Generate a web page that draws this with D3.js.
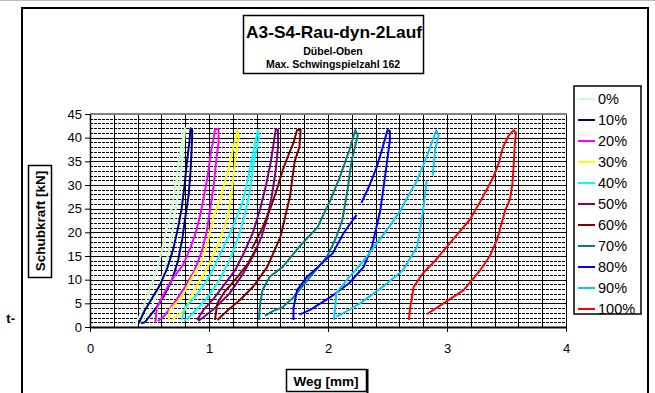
<!DOCTYPE html>
<html><head><meta charset="utf-8">
<script src="https://cdn.jsdelivr.net/npm/d3@7"></script>
<style>
html,body{margin:0;padding:0;background:#fff;}
svg{display:block;font-family:Arial,"Liberation Sans",sans-serif;}
</style></head>
<body><svg id="c" width="655" height="393"></svg>
<script>
// ---- data ----
const seriesNames = ["0%","10%","20%","30%","40%","50%","60%","70%","80%","90%","100%"];
const seriesColors = ["#CCFFCC","#000080","#FF00FF","#FFFF00","#00FFFF","#800080","#800000","#008080","#0000FF","#00CCFF","#FF0000"];
const xTicks = [0,1,2,3,4];
const yTicks = [0,5,10,15,20,25,30,35,40,45];

const s0 = [[0.38,0.5],[0.43,3],[0.48,6.5],[0.53,10],[0.58,13.5],[0.62,18],[0.66,22],[0.70,27],[0.73,32],[0.76,37],[0.79,41.5],[0.80,42],[0.79,39],[0.77,34],[0.745,29],[0.715,24],[0.685,19],[0.645,14],[0.60,10],[0.55,6],[0.49,3],[0.41,0.8]];
const s10 = [[0.41,0.8],[0.46,3.5],[0.52,6],[0.59,9],[0.65,12.5],[0.70,16.5],[0.74,21],[0.77,25],[0.795,30],[0.815,35],[0.835,39],[0.845,42],[0.86,41.5],[0.855,38],[0.845,33],[0.83,28],[0.80,23],[0.775,18.5],[0.74,14],[0.69,10],[0.62,6.5],[0.54,3.5],[0.46,1],[0.43,0.8]];
const s20 = [[0.55,1],[0.56,4],[0.62,7],[0.70,10.5],[0.78,13],[0.84,16.5],[0.89,20],[0.93,24],[0.96,28],[0.99,32],[1.01,36],[1.04,40],[1.05,41.8],[1.08,41.8],[1.08,39],[1.06,35],[1.04,30],[1.01,25],[0.98,20],[0.94,16],[0.88,12],[0.80,8.5],[0.72,5.5],[0.63,2.5],[0.57,1.2]];
const s30 = [[0.66,1.5],[0.67,3.6],[0.77,6.3],[0.86,10.6],[0.94,14],[0.99,18],[1.03,22.6],[1.11,28.3],[1.16,33.2],[1.20,37.4],[1.24,41.6],[1.25,40],[1.22,35.3],[1.19,28.3],[1.15,22.6],[1.08,17.7],[0.99,12.7],[0.91,9.3],[0.85,6.5],[0.80,3.6],[0.69,1.5]];
const s40 = [[0.77,1.5],[0.80,4.2],[0.88,6.3],[0.97,9.3],[1.03,12],[1.11,16.3],[1.19,20.5],[1.28,26.2],[1.33,31.7],[1.37,36.7],[1.41,41.6],[1.42,40],[1.38,35.3],[1.34,28.3],[1.29,22.6],[1.24,18.5],[1.18,14.5],[1.09,10],[0.98,6],[0.86,2.8],[0.79,1.2]];
const s50 = [[0.90,1.5],[0.95,3.5],[1.04,6],[1.13,9],[1.22,12],[1.30,16],[1.37,20],[1.43,25],[1.48,30],[1.52,35],[1.56,41.6],[1.58,41.6],[1.58,38],[1.56,33],[1.53,28],[1.49,23],[1.44,19],[1.37,15],[1.28,11],[1.17,7],[1.05,4],[0.95,2],[0.91,1.3]];
const s60 = [[1.05,1.5],[1.07,5],[1.13,7.4],[1.24,10.6],[1.33,13.5],[1.40,16.7],null,[1.36,16.5],[1.45,21],[1.51,24.7],[1.57,29],[1.62,33.2],[1.67,36.5],[1.71,38.9],[1.74,41.6],[1.77,41.6],[1.76,38],[1.72,35],[1.68,27.5],[1.60,19],[1.49,12.7],[1.37,8.5],[1.26,5.7],[1.16,3.6],[1.07,1.5]];
const s70 = [[1.42,1.5],[1.43,5],[1.45,7.8],[1.51,10.6],[1.62,12.7],[1.76,17],[1.91,21],[2.02,26.8],[2.10,31.7],[2.18,37.4],[2.23,41.6],[2.25,40.5],[2.20,35.3],[2.16,28.3],[2.12,22.6],[2.07,19],[1.99,14.8],[1.85,10.6],[1.71,6.3],[1.62,4.2],[1.54,3.4],[1.47,2.4]];
const s80 = [[1.71,1.5],[1.71,4],[1.74,7.8],[1.82,10.5],[1.91,12.5],[2.04,15.6],[2.13,19.8],[2.24,23.7],null,[2.28,26.2],[2.35,30],[2.41,33.8],[2.46,38],[2.50,41.6],[2.52,41.4],[2.52,39.5],[2.49,33.8],[2.44,24.7],[2.37,17],[2.30,12.7],[2.18,9.3],[2.02,6.3],[1.85,3.6],[1.76,2.6]];
const s90 = [[2.05,1.5],[2.06,4],[2.07,7.2],[2.18,10.6],[2.30,14],[2.41,17.7],[2.51,21],[2.61,24.7],[2.68,28],[2.75,31],[2.84,36.7],[2.88,39.5],[2.91,41.6],[2.93,40.5],[2.90,37.4],[2.88,32],null,[2.83,31],[2.80,24.7],[2.75,17],[2.63,12],[2.46,8.5],[2.27,5],[2.12,2.8],[2.07,2.2]];
const s100 = [[2.68,1.5],[2.69,4],[2.72,8.5],[2.80,11.4],[2.90,14],[3.00,17],[3.10,20],[3.19,22.6],[3.28,26.5],[3.39,31.7],[3.44,35],[3.47,38],[3.52,40.5],[3.56,41.6],[3.58,41],[3.57,38.9],[3.56,34],[3.55,30.4],[3.53,27],[3.49,24.7],[3.42,18.4],[3.36,15],[3.28,12],[3.14,7.8],[2.97,5],[2.83,2.7]];
const seriesData = [s0,s10,s20,s30,s40,s50,s60,s70,s80,s90,s100];

// ---- drawing ----
const svg = d3.select("#c");
const x = d3.scaleLinear().domain([0,4]).range([90,566]);
const y = d3.scaleLinear().domain([0,45]).range([327,114]);

// outer frame
svg.append("line").attr("x1",0).attr("x2",655).attr("y1",0.5).attr("y2",0.5).attr("stroke","#bbb");
svg.append("path").attr("d","M22,393 L22,8 L648,8 L648,393").attr("fill","none").attr("stroke","#000").attr("stroke-width",2);

// stray text
svg.append("text").attr("x",15).attr("y",323).attr("text-anchor","end").attr("font-weight","bold").attr("font-size",13).text("t-");

// grid
const g = svg.append("g");
const minorY = d3.range(1,45).filter(v=>v%5!==0);
g.selectAll(".hmin").data(minorY).join("line")
  .attr("x1",x(0)).attr("x2",x(4)).attr("y1",d=>Math.round(y(d))+0.5).attr("y2",d=>Math.round(y(d))+0.5)
  .attr("stroke","#000").attr("stroke-width",1).attr("stroke-dasharray","3,1");
g.selectAll(".hmaj").data(d3.range(5,45,5)).join("line")
  .attr("x1",x(0)).attr("x2",x(4)).attr("y1",d=>Math.round(y(d))+0.5).attr("y2",d=>Math.round(y(d))+0.5)
  .attr("stroke","#000").attr("stroke-width",1);
g.selectAll(".v").data(d3.range(1,21).map(i=>i*0.2)).join("line")
  .attr("x1",d=>Math.round(x(d))+0.5).attr("x2",d=>Math.round(x(d))+0.5).attr("y1",y(45)).attr("y2",y(0))
  .attr("stroke","#000").attr("stroke-width",1);
// plot top border
svg.append("line").attr("x1",x(0)).attr("x2",x(4)+1).attr("y1",y(45)).attr("y2",y(45)).attr("stroke","#808080").attr("stroke-width",2);

// series
const line = d3.line().defined(d=>d!==null).x(d=>x(d[0])).y(d=>y(d[1]));
seriesData.forEach((s,i)=>{
  svg.append("path").datum(s).attr("d",line).attr("fill","none")
    .attr("stroke",seriesColors[i]).attr("stroke-width",2).attr("stroke-linejoin","round");
});

// axes
const ya = svg.append("g").attr("transform","translate(90,0)")
  .call(d3.axisLeft(y).tickValues(yTicks).tickSize(5).tickPadding(3).tickSizeOuter(0));
ya.select(".domain").attr("stroke","#000").attr("stroke-width",1.5);
ya.selectAll("text").attr("font-size",13).attr("font-family","Arial").attr("fill","#000");
const xa = svg.append("g").attr("transform","translate(0,327)")
  .call(d3.axisBottom(x).tickValues(xTicks).tickSize(5).tickPadding(12).tickSizeOuter(0).tickFormat(d3.format("d")));
xa.select(".domain").attr("stroke","#000").attr("stroke-width",2);
xa.selectAll("text").attr("font-size",13).attr("font-family","Arial").attr("fill","#000");

// title box
svg.append("rect").attr("x",243.5).attr("y",15.5).attr("width",180).attr("height",58).attr("fill","#fff").attr("stroke","#000").attr("stroke-width",1.5);
svg.append("text").attr("x",334).attr("y",38).attr("text-anchor","middle").attr("font-weight","bold").attr("font-size",17).attr("textLength",176).attr("lengthAdjust","spacingAndGlyphs").text("A3-S4-Rau-dyn-2Lauf");
svg.append("text").attr("x",333).attr("y",55).attr("text-anchor","middle").attr("font-weight","bold").attr("font-size",10.5).text("Dübel-Oben");
svg.append("text").attr("x",333).attr("y",68).attr("text-anchor","middle").attr("font-weight","bold").attr("font-size",10.5).text("Max. Schwingspielzahl 162");

// y title
svg.append("rect").attr("x",28.5).attr("y",165.5).attr("width",23).attr("height",112).attr("fill","#fff").attr("stroke","#000").attr("stroke-width",1.5);
svg.append("text").attr("transform","translate(45,221) rotate(-90)").attr("text-anchor","middle").attr("font-weight","bold").attr("font-size",13.5).text("Schubkraft [kN]");

// x title
svg.append("rect").attr("x",286.5).attr("y",369.5).attr("width",80).attr("height",22).attr("fill","#fff").attr("stroke","#000").attr("stroke-width",1.5);
svg.append("line").attr("x1",367.5).attr("x2",367.5).attr("y1",369).attr("y2",393).attr("stroke","#000").attr("stroke-width",2);
svg.append("text").attr("x",326).attr("y",386).attr("text-anchor","middle").attr("font-weight","bold").attr("font-size",13.5).text("Weg [mm]");

// legend
const lg = svg.append("g");
lg.append("rect").attr("x",574).attr("y",86).attr("width",67).attr("height",228).attr("fill","#fff");
seriesNames.forEach((n,i)=>{
  const cy = 99 + i*21;
  lg.append("line").attr("x1",578).attr("x2",595).attr("y1",cy).attr("y2",cy).attr("stroke",seriesColors[i]).attr("stroke-width",2);
  lg.append("text").attr("x",598).attr("y",cy+5).attr("font-size",14.5).attr("font-family","Arial").text(n);
});
lg.append("rect").attr("x",574).attr("y",86).attr("width",67).attr("height",228).attr("fill","none").attr("stroke","#000").attr("stroke-width",1.5);
</script></body></html>
